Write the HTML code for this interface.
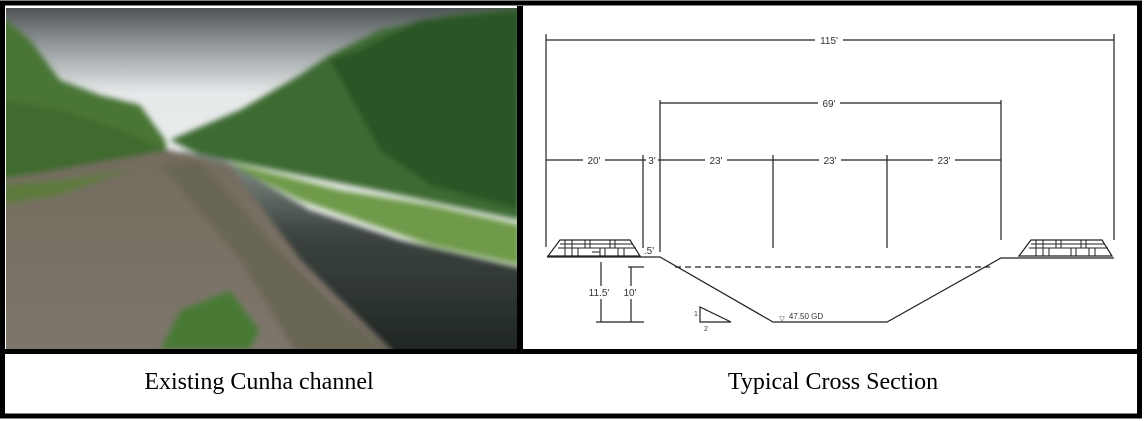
<!DOCTYPE html>
<html><head><style>
html,body{margin:0;padding:0;background:#fff;width:1144px;height:421px;overflow:hidden}
svg{display:block}
</style></head><body>
<svg width="1144" height="421" viewBox="0 0 1144 421" xmlns="http://www.w3.org/2000/svg">
<defs>
<linearGradient id="sky" x1="0" y1="0" x2="0" y2="1">
<stop offset="0" stop-color="#4f5557"/><stop offset="0.1" stop-color="#8e9496"/><stop offset="0.25" stop-color="#e6e9ea"/><stop offset="1" stop-color="#f6f7f7"/>
</linearGradient>
<linearGradient id="water" x1="0" y1="0" x2="0" y2="1">
<stop offset="0" stop-color="#8a948e"/><stop offset="0.4" stop-color="#3c4440"/><stop offset="1" stop-color="#1e2422"/>
</linearGradient>
<linearGradient id="ground" x1="0" y1="0" x2="0" y2="1">
<stop offset="0" stop-color="#746c5e"/><stop offset="1" stop-color="#7e766c"/>
</linearGradient>
<filter id="bl"><feGaussianBlur stdDeviation="3"/></filter>
</defs>
<rect width="1144" height="421" fill="#fff"/>
<g>
<clipPath id="pc"><rect x="6" y="8" width="511" height="342"/></clipPath>
<g clip-path="url(#pc)">
<rect x="6" y="8" width="511" height="342" fill="url(#sky)"/>
<g filter="url(#bl)">
<polygon points="0,15 30,40 60,80 100,95 140,105 165,140 170,165 100,180 0,190" fill="#4a7435"/>
<polygon points="0,100 60,110 120,130 165,150 100,170 0,175" fill="#3f6a2e"/>
<polygon points="170,140 240,110 300,75 330,55 380,30 450,15 520,8 520,220 400,195 300,175 200,155" fill="#3c6a30"/>
<polygon points="330,60 360,50 420,20 520,10 520,210 430,185 380,150" fill="#2c5526"/>
<polygon points="220,160 340,190 430,205 520,225 520,265 430,245 300,200" fill="#6e9a48"/>
<polygon points="180,150 225,160 310,210 400,240 530,270 530,360 300,360 250,220" fill="url(#water)"/>
<polygon points="0,180 170,150 230,165 300,260 400,360 0,360" fill="url(#ground)"/>
<polygon points="0,185 60,180 130,170 60,195 0,205" fill="#5f7a3c"/>
<polygon points="160,165 200,160 270,240 330,300 400,360 300,360 240,260" fill="#6b6656"/>
<polygon points="180,310 230,290 260,330 250,350 160,350" fill="#4a7a34"/>
</g>
</g>
</g>
<rect x="2.5" y="3" width="1137" height="413" fill="none" stroke="#000" stroke-width="5"/>
<rect x="517" y="6" width="6" height="346" fill="#000"/>
<rect x="4" y="349" width="1136" height="5" fill="#000"/>
<g stroke="#222" stroke-width="1.2" fill="none">
<line x1="546" y1="40" x2="1114" y2="40"/>
<line x1="546" y1="34" x2="546" y2="247"/>
<line x1="1114" y1="34" x2="1114" y2="240"/>
<line x1="660" y1="103" x2="1001" y2="103"/>
<line x1="660" y1="100" x2="660" y2="252"/>
<line x1="1001" y1="100" x2="1001" y2="240"/>
<line x1="546" y1="160" x2="1001" y2="160"/>
<line x1="643" y1="155" x2="643" y2="248"/>
<line x1="773" y1="155" x2="773" y2="248"/>
<line x1="887" y1="155" x2="887" y2="248"/>
<polyline points="547,257 660,257 773,322 887,322 1001,258 1114,258"/>
<line x1="675" y1="267" x2="990" y2="267" stroke-dasharray="6,4"/>
<line x1="601" y1="262" x2="601" y2="322"/>
<line x1="596" y1="322" x2="644" y2="322"/>
<line x1="631" y1="267" x2="631" y2="322"/>
<line x1="628" y1="267" x2="644" y2="267"/>
<polygon points="700,307 700,322 731,322"/>
<polygon points="548,256 560,240 630,240 640,256"/>
<polygon points="1019,256 1031,240 1102,240 1112,256"/>
</g>
<g stroke="#222" stroke-width="1" fill="none">
<path d="M560,244H632M558,248H636M565,240v16M572,240v16M585,240v8M590,240v8M600,248v8M605,248v8M610,240v8M615,240v8M618,248v8M624,248v8M578,248v8M592,252h8"/>
<path d="M1031,244H1104M1029,248H1108M1036,240v16M1043,240v16M1056,240v8M1061,240v8M1071,248v8M1076,248v8M1081,240v8M1086,240v8M1089,248v8M1095,248v8M1049,248v8"/>
</g>
<g font-family="'Liberation Sans',sans-serif" font-size="10" fill="#333" text-anchor="middle">
<rect x="815" y="34" width="28" height="12" fill="#fff"/><text x="829" y="44">115'</text>
<rect x="818" y="97" width="22" height="12" fill="#fff"/><text x="829" y="107">69'</text>
<rect x="583" y="154" width="22" height="12" fill="#fff"/><text x="594" y="164">20'</text>
<rect x="646" y="154" width="12" height="12" fill="#fff"/><text x="652" y="164">3'</text>
<rect x="705" y="154" width="22" height="12" fill="#fff"/><text x="716" y="164">23'</text>
<rect x="819" y="154" width="22" height="12" fill="#fff"/><text x="830" y="164">23'</text>
<rect x="933" y="154" width="22" height="12" fill="#fff"/><text x="944" y="164">23'</text>
<text x="649" y="254">.5'</text>
<rect x="585" y="286" width="28" height="13" fill="#fff"/><text x="599" y="296">11.5'</text>
<rect x="622" y="286" width="18" height="13" fill="#fff"/><text x="630" y="296">10'</text>
<text x="696" y="316" font-size="7">1</text>
<text x="706" y="331" font-size="7">2</text>
<text x="806" y="319" font-size="8">47.50 GD</text>
<text x="782" y="321" font-size="7">▽</text>
</g>
<g font-family="'Liberation Serif',serif" font-size="24" fill="#000" text-anchor="middle">
<text x="259" y="389">Existing Cunha channel</text>
<text x="833" y="389">Typical Cross Section</text>
</g>
</svg>
</body></html>
